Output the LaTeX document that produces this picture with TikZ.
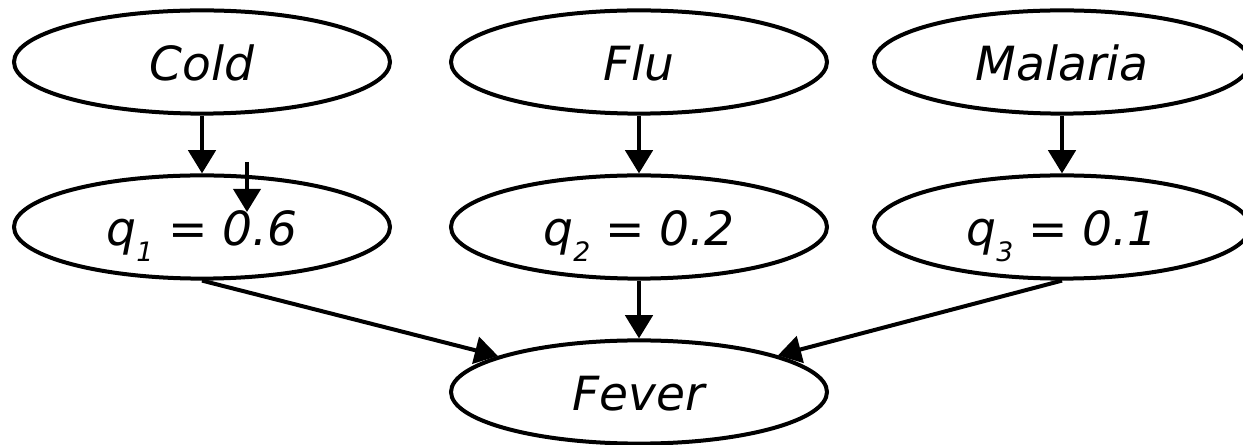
\documentclass[tikz,border=0pt]{standalone}
\usepackage{fontspec}
\setmainfont{DejaVu Sans}
\usetikzlibrary{shapes.geometric,arrows.meta}

\newcommand{\qsub}[1]{q\raisebox{-0.32em}{\fontsize{19pt}{19pt}\selectfont #1}}

\begin{document}
\begin{tikzpicture}[
		cause/.style={ellipse, draw, line width=0.1cm, minimum width=9.4cm, minimum height=2.58cm, inner sep=0pt, text height=1.2cm, text depth=0.25cm, font=\fontsize{33.5pt}{40pt}\selectfont\itshape},
		arrow/.style={line width=0.1cm, -{Triangle[length=0.58cm, width=0.68cm]}}
	]
	\useasboundingbox (0,0) rectangle (31.075,-11.125);

	% Cause
	\node[cause] (cold) at (5.05, -1.55) {Cold};
	\node[cause] (flu) at (15.975, -1.55) {Flu};
	\node[cause] (malaria) at (26.55, -1.55) {Malaria};

	% Inibitori
	\node[cause] (q1) at (5.05, -5.675) {\qsub{1} = 0.6};
	\node[cause] (q2) at (15.975, -5.675) {\qsub{2} = 0.2};
	\node[cause] (q3) at (26.55, -5.675) {\qsub{3} = 0.1};

	% Effetto
	\node[cause] (fever) at (15.975, -9.8) {Fever};

	% Frecce
	\draw[arrow] (cold) -- (q1);
	\draw[arrow] (flu) -- (q2);
	\draw[arrow] (malaria) -- (q3);
	\draw[arrow] (q1.south) -- (fever);
	\draw[arrow] (q2) -- (fever);
	\draw[arrow] (q3.south) -- (fever);

	\coordinate (extra) at (6.175, -4.05);
	\coordinate (extratip) at (6.175, -5.3);
	\draw[arrow] (extra) -- (extratip);

\end{tikzpicture}
\end{document}
